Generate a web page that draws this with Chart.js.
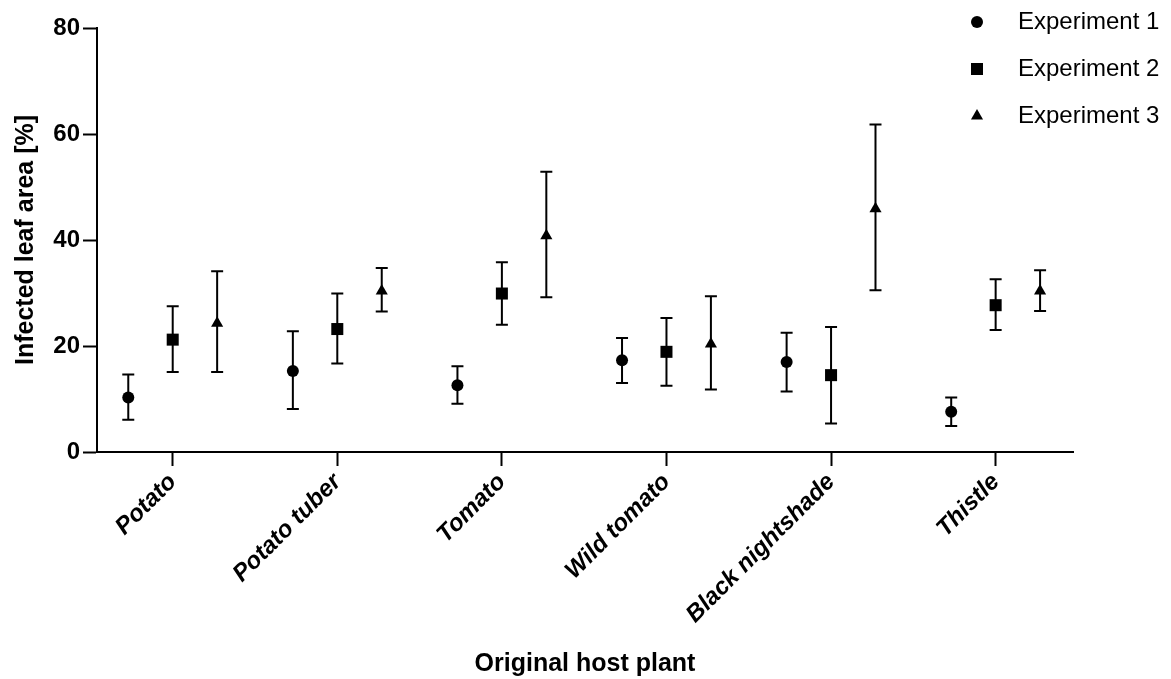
<!DOCTYPE html>
<html>
<head>
<meta charset="utf-8">
<title>Infected leaf area by original host plant</title>
<script src="https://cdn.jsdelivr.net/npm/chart.js@4.4.1/dist/chart.umd.min.js"></script>
<style>
  html, body { margin: 0; padding: 0; background: #fff; }
  #wrap { width: 1171px; height: 679px; }
</style>
</head>
<body>
<div id="wrap"><canvas id="chart"></canvas></div>
<script>
// Host plants on the x axis
const hostPlants = ["Potato", "Potato tuber", "Tomato", "Wild tomato", "Black nightshade", "Thistle"]

// Mean infected leaf area [%] with lower / upper error limits
const exp1Mean = [10.3, 15.3, 12.6, 17.3, 17.0, 7.6]
const exp1Low = [6.1, 8.1, 9.1, 13.0, 11.4, 4.9]
const exp1High = [14.6, 22.8, 16.2, 21.5, 22.5, 10.3]

const exp2Mean = [21.2, 23.2, 29.9, 18.9, 14.5, 27.7]
const exp2Low = [15.1, 16.7, 24.0, 12.5, 5.4, 23.0]
const exp2High = [27.5, 29.9, 35.8, 25.3, 23.6, 32.6]

const exp3Mean = [24.3, 30.4, 40.8, 20.4, 45.9, 30.4]
const exp3Low = [15.1, 26.5, 29.2, 11.8, 30.5, 26.6]
const exp3High = [34.1, 34.7, 52.9, 29.4, 61.8, 34.3]

const yTicks = [0, 20, 40, 60, 80]

const fontFamily = "Arial, 'Liberation Sans', Helvetica, sans-serif"
const groupShift = 0.27 // horizontal spread of the three experiments around each host

// Builds one scatter series shifted left/right of the host tick
const makeSeries = (label, means, lows, highs, shift, pointStyle, radius) => ({
  label,
  data: means.map((m, i) => ({ x: i + shift, y: m })),
  errorLow: lows,
  errorHigh: highs,
  pointStyle,
  pointRadius: radius,
  pointHoverRadius: radius,
  pointBackgroundColor: "#000",
  pointBorderWidth: 0,
  showLine: false,
})

// Vertical error bars with end caps, drawn under the markers
const errorBarPlugin = {
  id: "errorBars",
  beforeDatasetsDraw(chart) {
    const { ctx } = chart
    const { x, y } = chart.scales
    ctx.save()
    ctx.strokeStyle = "#000"
    ctx.lineWidth = 2
    chart.data.datasets.forEach((ds) => {
      ds.data.forEach((pt, i) => {
        const px = x.getPixelForValue(pt.x)
        const top = y.getPixelForValue(ds.errorHigh[i])
        const bottom = y.getPixelForValue(ds.errorLow[i])
        ctx.beginPath()
        ctx.moveTo(px, top)
        ctx.lineTo(px, bottom)
        ctx.moveTo(px - 6, top)
        ctx.lineTo(px + 6, top)
        ctx.moveTo(px - 6, bottom)
        ctx.lineTo(px + 6, bottom)
        ctx.stroke()
      })
    })
    ctx.restore()
  },
}

// Symbol legend in the top right corner
const symbolLegend = {
  id: "symbolLegend",
  afterDraw(chart) {
    const { ctx } = chart
    ctx.save()
    ctx.fillStyle = "#000"
    ctx.font = `24px ${fontFamily}`
    ctx.textBaseline = "middle"
    chart.data.datasets.forEach((ds, i) => {
      const rowY = 22 + i * 47
      Chart.helpers.drawPoint(ctx, { pointStyle: ds.pointStyle, radius: ds.pointRadius, rotation: 0, borderWidth: 0 }, 977, rowY)
      ctx.fillText(ds.label, 1018, rowY)
    })
    ctx.restore()
  },
}

const axisGrid = { drawOnChartArea: false, tickLength: 14, tickWidth: 2, tickColor: "#000" }
const axisBorder = { color: "#000", width: 2 }

new Chart(document.getElementById("chart"), {
  type: "scatter",
  data: {
    datasets: [
      makeSeries("Experiment 1", exp1Mean, exp1Low, exp1High, -groupShift, "circle", 6),
      makeSeries("Experiment 2", exp2Mean, exp2Low, exp2High, 0, "rect", 8.5),
      makeSeries("Experiment 3", exp3Mean, exp3Low, exp3High, groupShift, "triangle", 7),
    ],
  },
  options: {
    responsive: true,
    maintainAspectRatio: false,
    animation: false,
    layout: { padding: { top: 28, right: 98, left: 0, bottom: 0 } },
    plugins: {
      legend: { display: false },
      tooltip: { enabled: false },
    },
    scales: {
      x: {
        type: "linear",
        min: -0.46,
        max: 5.47,
        bounds: "data",
        afterBuildTicks: (scale) => {
          scale.ticks = hostPlants.map((_, i) => ({ value: i }))
        },
        afterFit: (scale) => {
          scale.height = 227
        },
        ticks: {
          callback: (value) => hostPlants[value],
          autoSkip: false,
          minRotation: 45,
          maxRotation: 45,
          padding: 2,
          color: "#000",
          font: { family: fontFamily, size: 24, weight: "bold", style: "italic" },
        },
        grid: axisGrid,
        border: axisBorder,
        title: {
          display: true,
          text: "Original host plant",
          color: "#000",
          padding: { top: 0, bottom: 0 },
          font: { family: fontFamily, size: 25, weight: "bold" },
        },
      },
      y: {
        min: 0,
        max: 80,
        afterBuildTicks: (scale) => {
          scale.ticks = yTicks.map((v) => ({ value: v }))
        },
        afterFit: (scale) => {
          scale.width = 97
        },
        ticks: {
          padding: 3,
          color: "#000",
          font: { family: fontFamily, size: 24, weight: "bold" },
        },
        grid: axisGrid,
        border: axisBorder,
        title: {
          display: true,
          text: "Infected leaf area [%]",
          color: "#000",
          padding: { top: 11, bottom: 0 },
          font: { family: fontFamily, size: 25, weight: "bold" },
        },
      },
    },
  },
  plugins: [errorBarPlugin, symbolLegend],
})
</script>
</body>
</html>
